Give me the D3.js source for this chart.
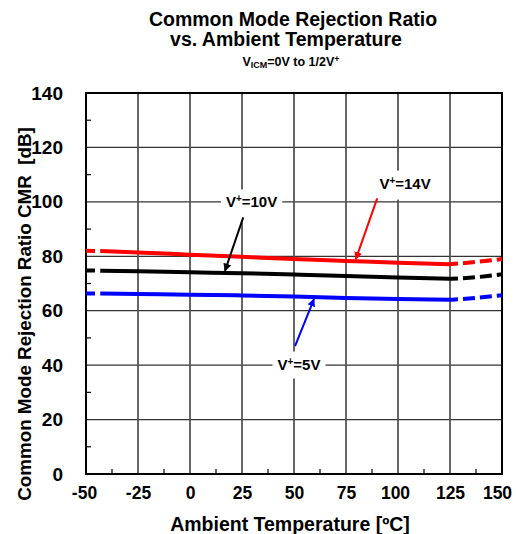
<!DOCTYPE html>
<html>
<head>
<meta charset="utf-8">
<script src="https://cdn.jsdelivr.net/npm/d3@7"></script>
<style>
  html, body { margin: 0; padding: 0; background: #fff; }
  svg { display: block; font-family: "Liberation Sans", Arial, sans-serif; font-weight: bold; }
</style>
</head>
<body>
<svg id="chart" width="516" height="534"></svg>
<script>
// Temperature sample points (°C)
const temps = [-50, -43, -25, 0, 25, 50, 75, 100, 125, 137.5, 150];
// CMR in dB for each supply voltage
const cmr14V = [82.0, 81.9, 81.4, 80.6, 79.8, 79.0, 78.3, 77.6, 77.1, 77.9, 79.0];
const cmr10V = [74.8, 74.7, 74.5, 74.1, 73.8, 73.3, 72.8, 72.2, 71.7, 72.3, 73.4];
const cmr5V  = [66.3, 66.3, 66.1, 65.9, 65.6, 65.2, 64.7, 64.3, 64.0, 64.7, 65.7];
const seriesNames = ["V+=14V", "V+=10V", "V+=5V"];
const xTicks = [-50, -25, 0, 25, 50, 75, 100, 125, 150];
const yTicks = [0, 20, 40, 60, 80, 100, 120, 140];
// specified (solid) range; outside it the curves are dashed
const solidRange = [-43, 125];

const svg = d3.select("#chart");
const m = { left: 86, right: 502, top: 93, bottom: 474 };
const x = d3.scaleLinear().domain([-50, 150]).range([m.left, m.right]);
const y = d3.scaleLinear().domain([0, 140]).range([m.bottom, m.top]);

// titles
svg.append("text").attr("x", 293).attr("y", 26).attr("text-anchor", "middle")
  .attr("font-size", 19.5).text("Common Mode Rejection Ratio");
svg.append("text").attr("x", 286).attr("y", 46).attr("text-anchor", "middle")
  .attr("font-size", 19.5).text("vs. Ambient Temperature");
const sub = svg.append("text").attr("x", 291).attr("y", 66).attr("text-anchor", "middle")
  .attr("font-size", 12.5);
sub.append("tspan").text("V");
sub.append("tspan").attr("font-size", 9).attr("dy", 2).text("ICM");
sub.append("tspan").attr("dy", -2).text("=0V to 1/2V");
sub.append("tspan").attr("font-size", 9).attr("dy", -4).text("+");

// grid
const grid = svg.append("g");
grid.selectAll("line.h").data(yTicks.filter(d => d > 0 && d < 140)).join("line")
  .attr("x1", m.left).attr("x2", m.right)
  .attr("y1", d => y(d)).attr("y2", d => y(d))
  .attr("stroke", "#333").attr("stroke-width", 1.3);
grid.selectAll("line.v").data(xTicks.filter(d => d > -50 && d < 150)).join("line")
  .attr("y1", m.top).attr("y2", m.bottom)
  .attr("x1", d => x(d)).attr("x2", d => x(d))
  .attr("stroke", "#555").attr("stroke-width", 1.8);

// minor ticks
const yMinor = d3.range(10, 140, 20);
svg.append("g").selectAll("line").data(yMinor).join("line")
  .attr("x1", m.left).attr("x2", m.left + 5)
  .attr("y1", d => y(d)).attr("y2", d => y(d))
  .attr("stroke", "#000").attr("stroke-width", 1.2);
const xMinor = d3.range(-37.5, 150, 25);
svg.append("g").selectAll("line").data(xMinor).join("line")
  .attr("x1", d => x(d)).attr("x2", d => x(d))
  .attr("y1", m.bottom).attr("y2", m.bottom - 5)
  .attr("stroke", "#000").attr("stroke-width", 1.2);

// frame
svg.append("rect").attr("x", m.left).attr("y", m.top)
  .attr("width", m.right - m.left).attr("height", m.bottom - m.top)
  .attr("fill", "none").attr("stroke", "#000").attr("stroke-width", 2);

// tick labels via d3 axes (plain hyphen for negatives)
const fmt = d => String(d);
const yAxis = d3.axisLeft(y).tickValues(yTicks).tickFormat(fmt).tickSize(0).tickPadding(23);
svg.append("g").attr("transform", `translate(${m.left},0)`).call(yAxis)
  .call(g => g.select(".domain").remove())
  .selectAll("text").attr("font-size", 19).attr("font-family", null).attr("fill", "#000");
const xAxis = d3.axisBottom(x).tickValues(xTicks).tickFormat(fmt).tickSize(0).tickPadding(13);
svg.append("g").attr("transform", `translate(0,${m.bottom})`).call(xAxis)
  .call(g => g.select(".domain").remove())
  .selectAll("text").attr("font-size", 17.5).attr("font-family", null).attr("fill", "#000")
  .attr("dx", d => d === 150 ? -5 : d === 100 ? -3 : d === -50 ? -2 : 0);

svg.append("text").attr("x", 290).attr("y", 531).attr("text-anchor", "middle")
  .attr("font-size", 19.5).text("Ambient Temperature [ºC]");
svg.append("text").attr("transform", "translate(31,314) rotate(-90)")
  .attr("text-anchor", "middle").attr("font-size", 18.8)
  .attr("xml:space", "preserve").style("white-space", "pre")
  .text("Common Mode Rejection Ratio CMR  [dB]");

// curves
const series = [
  { name: seriesNames[0], values: cmr14V, color: "#ff0000" },
  { name: seriesNames[1], values: cmr10V, color: "#000000" },
  { name: seriesNames[2], values: cmr5V,  color: "#0000ff" }
];
const line = d3.line().x(d => x(d.t)).y(d => y(d.v)).curve(d3.curveMonotoneX);
const plot = svg.append("g");
series.forEach(s => {
  const pts = temps.map((t, i) => ({ t, v: s.values[i] }));
  const lo = pts.filter(p => p.t <= solidRange[0]);
  const mid = pts.filter(p => p.t >= solidRange[0] && p.t <= solidRange[1]);
  const hi = pts.filter(p => p.t >= solidRange[1]);
  plot.append("path").attr("d", line(lo)).attr("fill", "none")
    .attr("stroke", s.color).attr("stroke-width", 4).attr("stroke-dasharray", "9,5");
  plot.append("path").attr("d", line(mid)).attr("fill", "none")
    .attr("stroke", s.color).attr("stroke-width", 4);
  plot.append("path").attr("d", line(hi)).attr("fill", "none")
    .attr("stroke", s.color).attr("stroke-width", 4)
    .attr("stroke-dasharray", "12,5").attr("stroke-dashoffset", 4);
});

// callouts: label position (data coords), arrow start and arrow tip temperature
const callouts = [
  { series: 0, lx: 103.4, ly: 106.9, fromT: 90, fromV: 101.3, tipT: 79.7, padB: 8 },
  { series: 1, lx: 29.6, ly: 100, fromT: 25.6, fromV: 94.3, tipT: 16.8, padB: 12 },
  { series: 2, lx: 52.4, ly: 40.4, fromT: 50.5, fromV: 47, tipT: 59.6, padB: 6 }
];
const defs = svg.append("defs");
series.forEach((s, i) => {
  defs.append("marker").attr("id", "arr" + i).attr("viewBox", "0 0 10 10")
    .attr("refX", 9).attr("refY", 5).attr("markerWidth", 4).attr("markerHeight", 4)
    .attr("markerUnits", "strokeWidth").attr("orient", "auto")
    .append("path").attr("d", "M0,0 L10,5 L0,10 z").attr("fill", s.color);
});
callouts.forEach(c => {
  const s = series[c.series];
  const tipV = valueAt(s.values, c.tipT);
  const g = svg.append("g");
  const t = g.append("text").attr("x", x(c.lx)).attr("y", y(c.ly) + 5.5)
    .attr("text-anchor", "middle").attr("font-size", 15);
  t.append("tspan").text("V");
  t.append("tspan").attr("font-size", 10).attr("dy", -5).text("+");
  t.append("tspan").attr("dy", 5).text(s.name.slice(2));
  const bb = t.node().getBBox();
  g.insert("rect", "text").attr("x", bb.x - 5).attr("y", bb.y - 4)
    .attr("width", bb.width + 10).attr("height", bb.height + 4 + c.padB).attr("fill", "#fff");
  svg.append("line").attr("x1", x(c.fromT)).attr("y1", y(c.fromV))
    .attr("x2", x(c.tipT)).attr("y2", y(tipV) + (c.series === 2 ? 2 : -2))
    .attr("stroke", s.color).attr("stroke-width", 2).attr("marker-end", `url(#arr${c.series})`);
});

function valueAt(vals, t) {
  const i = d3.bisectRight(temps, t) - 1;
  const t0 = temps[i], t1 = temps[i + 1];
  return vals[i] + (vals[i + 1] - vals[i]) * (t - t0) / (t1 - t0);
}
</script>
</body>
</html>
